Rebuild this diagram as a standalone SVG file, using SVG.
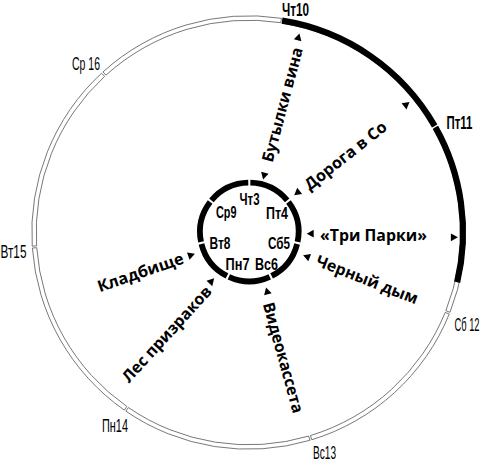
<svg xmlns="http://www.w3.org/2000/svg" width="484" height="461" viewBox="0 0 484 461">
<style>
.band{fill:#fff;stroke:#555;stroke-width:0.8}
.blk{fill:none;stroke:#000;stroke-width:6.2}
.inr{fill:none;stroke:#000;stroke-width:5.8}
.ol{font-family:"Liberation Sans Narrow","Liberation Sans",sans-serif;font-size:18.5px;fill:#000}
.olb{font-weight:bold}
.il{font-family:"Liberation Sans Narrow","Liberation Sans",sans-serif;font-size:16.5px;font-weight:bold;fill:#000}
.ev{font-family:"Open Sans","Liberation Sans",sans-serif;font-size:16px;font-weight:700;fill:#000;text-anchor:middle;dominant-baseline:central}
.ah{fill:#000}
</style>
<defs>
<path id="ah" d="M3.6,0 L-3.4,-3.9 L-3.4,3.9 Z"/>
</defs>
<rect width="484" height="461" fill="#fff"/>
<g id="outer-ring">
<g id="seg-thu10"><path class="band" d="M283.33,18.62 A216.7,216.7 0 0 1 436.51,124.74 L432.69,126.93 A212.3,212.3 0 0 0 282.63,22.96 Z"/></g>
<g id="seg-fri11"><path class="band" d="M437.44,126.39 A216.7,216.7 0 0 1 449.96,312.31 L445.87,310.69 A212.3,212.3 0 0 0 433.61,128.54 Z"/></g>
<g id="seg-sat12"><path class="band" d="M449.25,314.06 A216.7,216.7 0 0 1 311.71,439.78 L310.43,435.57 A212.3,212.3 0 0 0 445.18,312.41 Z"/></g>
<g id="seg-sun13"><path class="band" d="M309.90,440.32 A216.7,216.7 0 0 1 125.88,411.17 L128.37,407.54 A212.3,212.3 0 0 0 308.65,436.10 Z"/></g>
<g id="seg-mon14"><path class="band" d="M124.32,410.09 A216.7,216.7 0 0 1 32.36,248.03 L36.75,247.72 A212.3,212.3 0 0 0 126.84,406.48 Z"/></g>
<g id="seg-tue15"><path class="band" d="M32.23,246.15 A216.7,216.7 0 0 1 101.60,73.19 L104.58,76.43 A212.3,212.3 0 0 0 36.62,245.87 Z"/></g>
<g id="seg-wed16"><path class="band" d="M103.00,71.92 A216.7,216.7 0 0 1 281.46,18.32 L280.80,22.67 A212.3,212.3 0 0 0 105.95,75.18 Z"/></g>
<g id="black-arc">
<path class="blk" d="M282.05,20.64 A214.5,214.5 0 0 1 434.64,125.90"/>
<path class="blk" d="M435.47,127.37 A214.5,214.5 0 0 1 457.16,282.21"/>
</g>
<g id="outer-labels">
<text class="ol olb" transform="translate(282,15.5) scale(0.62,1)" textLength="43.5" lengthAdjust="spacingAndGlyphs">Чт10</text>
<text class="ol olb" transform="translate(446.5,128.5) scale(0.62,1)" textLength="41.9" lengthAdjust="spacingAndGlyphs">Пт11</text>
<text class="ol" transform="translate(454.5,330.5) scale(0.62,1)" textLength="40.3" lengthAdjust="spacingAndGlyphs">Сб 12</text>
<text class="ol" transform="translate(313,458.5) scale(0.62,1)" textLength="37.1" lengthAdjust="spacingAndGlyphs">Вс13</text>
<text class="ol" transform="translate(102,432) scale(0.62,1)" textLength="41.9" lengthAdjust="spacingAndGlyphs">Пн14</text>
<text class="ol" transform="translate(0.5,258) scale(0.62,1)" textLength="41.9" lengthAdjust="spacingAndGlyphs">Вт15</text>
<text class="ol" transform="translate(72,70) scale(0.62,1)" textLength="45.2" lengthAdjust="spacingAndGlyphs">Ср 16</text>
</g>
</g>
<g id="inner-ring">
<g id="day3"><path class="inr" d="M250.33,182.71 A49.3,49.3 0 0 1 287.19,200.46"/><text class="il" transform="translate(239.5,205) scale(0.62,1)" textLength="32.3" lengthAdjust="spacingAndGlyphs">Чт3</text></g>
<g id="day4"><path class="inr" d="M288.48,202.08 A49.3,49.3 0 0 1 297.58,241.96"/><text class="il" transform="translate(266,219) scale(0.62,1)" textLength="35.5" lengthAdjust="spacingAndGlyphs">Пт4</text></g>
<g id="day5"><path class="inr" d="M297.12,243.98 A49.3,49.3 0 0 1 271.61,275.96"/><text class="il" transform="translate(268,248.5) scale(0.62,1)" textLength="35.5" lengthAdjust="spacingAndGlyphs">Сб5</text></g>
<g id="day6"><path class="inr" d="M269.75,276.86 A49.3,49.3 0 0 1 228.85,276.86"/><text class="il" transform="translate(255,270) scale(0.62,1)" textLength="37.1" lengthAdjust="spacingAndGlyphs">Вс6</text></g>
<g id="day7"><path class="inr" d="M226.99,275.96 A49.3,49.3 0 0 1 201.48,243.98"/><text class="il" transform="translate(225.5,270) scale(0.62,1)" textLength="38.7" lengthAdjust="spacingAndGlyphs">Пн7</text></g>
<g id="day8"><path class="inr" d="M201.02,241.96 A49.3,49.3 0 0 1 210.12,202.08"/><text class="il" transform="translate(209.5,248.5) scale(0.62,1)" textLength="33.9" lengthAdjust="spacingAndGlyphs">Вт8</text></g>
<g id="day9"><path class="inr" d="M211.41,200.46 A49.3,49.3 0 0 1 248.27,182.71"/><text class="il" transform="translate(216,218) scale(0.62,1)" textLength="33.1" lengthAdjust="spacingAndGlyphs">Ср9</text></g>
</g>
<g id="connectors">
<g id="c-wine">
<use href="#ah" class="ah" transform="translate(298.5,37) rotate(-75)"/>
<use href="#ah" class="ah" transform="translate(264,176) rotate(105)"/>
<text class="ev" transform="translate(282,104.5) rotate(-75)" textLength="118" lengthAdjust="spacingAndGlyphs">Бутылки вина</text>
</g>
<g id="c-road">
<use href="#ah" class="ah" transform="translate(406.7,104.3) rotate(-38.4)"/>
<use href="#ah" class="ah" transform="translate(297,193) rotate(141.6)"/>
<text class="ev" transform="translate(345.3,155.3) rotate(-38.4)" textLength="100" lengthAdjust="spacingAndGlyphs">Дорога в Со</text>
</g>
<g id="c-parks">
<use href="#ah" class="ah" transform="translate(310.3,233.7) rotate(180)"/>
<use href="#ah" class="ah" transform="translate(454.3,237.3)"/>
<text class="ev" transform="translate(373.5,235)" textLength="107" lengthAdjust="spacingAndGlyphs">«Три Парки»</text>
</g>
<g id="c-smoke">
<use href="#ah" class="ah" transform="translate(306.5,256.5) rotate(201.3)"/>
<text class="ev" transform="translate(367.3,279.2) rotate(21.3)" textLength="108" lengthAdjust="spacingAndGlyphs">Черный дым</text>
</g>
<g id="c-tape">
<use href="#ah" class="ah" transform="translate(267,291) rotate(254.5)"/>
<text class="ev" transform="translate(283.7,357.5) rotate(74.5)" textLength="114" lengthAdjust="spacingAndGlyphs">Видеокассета</text>
</g>
<g id="c-forest">
<use href="#ah" class="ah" transform="translate(211.7,281) rotate(-47.5)"/>
<text class="ev" transform="translate(166.5,333.8) rotate(-47.5)" textLength="124" lengthAdjust="spacingAndGlyphs">Лес призраков</text>
</g>
<g id="c-cemetery">
<use href="#ah" class="ah" transform="translate(191.5,255) rotate(-19)"/>
<text class="ev" transform="translate(140.3,272) rotate(-19)" textLength="90" lengthAdjust="spacingAndGlyphs">Кладбище</text>
</g>
</g>
</svg>
